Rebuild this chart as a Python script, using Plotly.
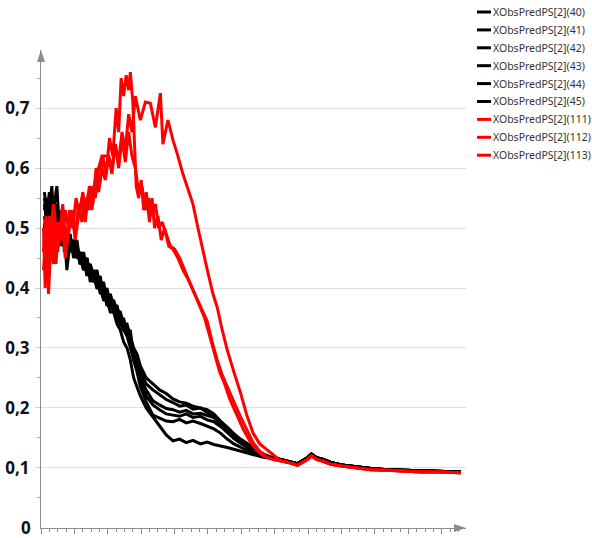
import plotly.graph_objects as go

# ---------------- data ----------------
black_names = ["XObsPredPS[2](40)", "XObsPredPS[2](41)", "XObsPredPS[2](42)",
               "XObsPredPS[2](43)", "XObsPredPS[2](44)", "XObsPredPS[2](45)"]
red_names = ["XObsPredPS[2](111)", "XObsPredPS[2](112)", "XObsPredPS[2](113)"]

black_x_early = [0.4, 0.7, 1.0, 1.3, 1.6, 1.9, 2.2, 2.5, 2.8, 3.1, 3.5, 3.9, 4.3, 4.7, 5.1,
                 5.5, 5.9, 6.3, 6.7, 7.1, 7.5, 7.9, 8.3, 8.7, 9.1, 9.5, 9.9, 10.3, 10.7]
black_x_late = [11.1, 11.5, 11.9, 12.6, 13.4, 14.2, 15.0, 15.8, 16.6, 17.4, 18.2, 19.1,
                19.9, 20.7, 21.5, 22.3, 23.1, 23.9, 24.7, 25.5, 26.5, 27.5]
tail_x = [28.7, 29.9, 30.7, 31.3, 31.9, 32.4, 33.0, 33.8, 34.7, 36.0, 37.7, 39.5,
          41.5, 43.5, 45.5, 47.5, 49.0, 50.3]

black_y_early = [
    [0.53, 0.55, 0.51, 0.54, 0.50, 0.52, 0.49, 0.50, 0.47, 0.49, 0.46, 0.47, 0.45, 0.46, 0.43,
     0.44, 0.42, 0.42, 0.40, 0.40, 0.38, 0.38, 0.36, 0.36, 0.34, 0.33, 0.31, 0.30, 0.28],
    [0.55, 0.52, 0.56, 0.50, 0.54, 0.57, 0.50, 0.51, 0.49, 0.43, 0.48, 0.46, 0.46, 0.44, 0.45,
     0.43, 0.43, 0.41, 0.42, 0.39, 0.40, 0.37, 0.38, 0.36, 0.35, 0.34, 0.33, 0.32, 0.30],
    [0.50, 0.54, 0.49, 0.52, 0.48, 0.51, 0.52, 0.48, 0.50, 0.48, 0.47, 0.48, 0.45, 0.46, 0.44,
     0.45, 0.42, 0.43, 0.41, 0.41, 0.39, 0.39, 0.37, 0.37, 0.35, 0.35, 0.33, 0.33, 0.31],
    [0.56, 0.53, 0.50, 0.55, 0.51, 0.49, 0.53, 0.47, 0.49, 0.50, 0.46, 0.48, 0.47, 0.44, 0.46,
     0.43, 0.44, 0.42, 0.43, 0.40, 0.41, 0.38, 0.39, 0.37, 0.37, 0.35, 0.34, 0.33, 0.32],
    [0.52, 0.50, 0.55, 0.48, 0.52, 0.54, 0.47, 0.50, 0.48, 0.46, 0.49, 0.45, 0.47, 0.45, 0.43,
     0.45, 0.41, 0.43, 0.40, 0.42, 0.38, 0.40, 0.37, 0.38, 0.36, 0.36, 0.34, 0.34, 0.32],
    [0.54, 0.51, 0.53, 0.57, 0.49, 0.52, 0.48, 0.52, 0.46, 0.49, 0.47, 0.46, 0.48, 0.44, 0.45,
     0.42, 0.44, 0.41, 0.42, 0.40, 0.39, 0.39, 0.38, 0.36, 0.37, 0.34, 0.35, 0.32, 0.33],
]
black_y_late = [
    [0.25, 0.235, 0.22, 0.20, 0.185, 0.168, 0.155, 0.145, 0.148, 0.142, 0.146, 0.140,
     0.143, 0.139, 0.137, 0.134, 0.131, 0.128, 0.124, 0.121, 0.118, 0.116],
    [0.28, 0.26, 0.235, 0.21, 0.188, 0.183, 0.178, 0.177, 0.181, 0.175, 0.178, 0.174,
     0.170, 0.165, 0.158, 0.148, 0.140, 0.134, 0.129, 0.124, 0.120, 0.117],
    [0.29, 0.27, 0.25, 0.23, 0.212, 0.205, 0.199, 0.197, 0.193, 0.196, 0.190, 0.191,
     0.187, 0.184, 0.175, 0.163, 0.150, 0.142, 0.135, 0.128, 0.121, 0.117],
    [0.30, 0.29, 0.27, 0.25, 0.24, 0.23, 0.224, 0.215, 0.21, 0.208, 0.203, 0.200,
     0.197, 0.190, 0.178, 0.168, 0.157, 0.148, 0.141, 0.133, 0.124, 0.118],
    [0.29, 0.28, 0.26, 0.24, 0.23, 0.222, 0.214, 0.209, 0.203, 0.205, 0.198, 0.200,
     0.192, 0.185, 0.174, 0.164, 0.154, 0.146, 0.139, 0.131, 0.123, 0.118],
    [0.28, 0.265, 0.245, 0.22, 0.205, 0.197, 0.19, 0.188, 0.186, 0.19, 0.184, 0.186,
     0.180, 0.177, 0.169, 0.159, 0.149, 0.141, 0.134, 0.127, 0.121, 0.117],
]
black_tail_y = [0.114, 0.110, 0.107, 0.112, 0.117, 0.123, 0.117, 0.114, 0.109, 0.105, 0.102,
                0.099, 0.097, 0.096, 0.095, 0.094, 0.093, 0.093]

red_x = [
    [0.3, 0.5, 0.8, 1.0, 1.3, 1.6, 2.0, 2.3, 2.6, 3.0, 3.4, 3.8, 4.2, 4.6, 5.0, 5.4, 5.8, 6.2,
     6.6, 7.0, 7.4, 7.8, 8.2, 8.6, 9.0, 9.3, 9.6, 9.9, 10.2, 10.5, 10.7, 11.0, 11.2, 11.4,
     11.7, 12.0, 12.3, 12.6, 13.0, 13.3, 13.6, 14.0, 14.4, 14.8, 15.3, 15.8, 16.4, 17.0,
     17.6, 18.2, 18.8, 19.4, 19.9, 20.5, 21.1, 21.7, 22.3, 23.1, 23.9, 24.6, 25.4, 26.2,
     27.1, 27.9],
    [0.3, 0.6, 0.9, 1.2, 1.5, 1.8, 2.1, 2.5, 2.9, 3.3, 3.7, 4.1, 4.5, 4.9, 5.3, 5.7, 6.1, 6.5,
     6.9, 7.3, 7.7, 8.1, 8.5, 8.9, 9.3, 9.7, 10.1, 10.5, 10.9, 11.3, 11.9, 12.5, 13.1, 13.7,
     14.3, 14.6, 15.2, 15.8, 16.4, 17.0, 17.6, 18.2, 18.8, 19.4, 20.0, 20.6, 21.1, 21.7,
     22.3, 23.1, 23.9, 24.6, 25.4, 26.2, 27.1, 27.9],
    [0.3, 0.6, 0.9, 1.2, 1.5, 1.8, 2.1, 2.5, 2.9, 3.3, 3.7, 4.1, 4.5, 4.9, 5.3, 5.7, 6.1, 6.5,
     6.9, 7.3, 7.7, 8.1, 8.5, 8.9, 9.3, 9.7, 10.1, 10.5, 10.9, 11.3, 11.7, 12.1, 12.5, 12.9,
     13.3, 13.7, 14.1, 14.5, 15.0, 15.5, 16.0, 16.6, 17.2, 17.8, 18.4, 19.0, 19.6, 20.2,
     20.8, 21.4, 22.0, 22.6, 23.4, 24.2, 25.0, 25.8, 26.6, 27.4, 28.0],
]
red_y = [
    [0.50, 0.40, 0.47, 0.52, 0.45, 0.53, 0.46, 0.50, 0.54, 0.47, 0.53, 0.50, 0.55, 0.52, 0.56,
     0.53, 0.57, 0.54, 0.60, 0.57, 0.62, 0.59, 0.65, 0.62, 0.70, 0.66, 0.75, 0.72, 0.755,
     0.73, 0.76, 0.71, 0.64, 0.57, 0.55, 0.58, 0.53, 0.56, 0.51, 0.55, 0.50, 0.52, 0.48,
     0.50, 0.47, 0.465, 0.45, 0.43, 0.415, 0.397, 0.38, 0.36, 0.345, 0.31, 0.28, 0.255,
     0.235, 0.21, 0.185, 0.165, 0.142, 0.128, 0.118, 0.114],
    [0.46, 0.52, 0.43, 0.50, 0.54, 0.44, 0.51, 0.48, 0.53, 0.50, 0.52, 0.49, 0.54, 0.51, 0.55,
     0.53, 0.57, 0.55, 0.60, 0.62, 0.62, 0.62, 0.60, 0.64, 0.61, 0.66, 0.63, 0.69, 0.66,
     0.72, 0.68, 0.71, 0.708, 0.668, 0.725, 0.64, 0.68, 0.647, 0.62, 0.59, 0.565, 0.54,
     0.50, 0.46, 0.425, 0.39, 0.368, 0.33, 0.297, 0.26, 0.225, 0.19, 0.158, 0.14, 0.13,
     0.12],
    [0.43, 0.49, 0.39, 0.48, 0.44, 0.51, 0.47, 0.52, 0.45, 0.49, 0.53, 0.48, 0.52, 0.55, 0.51,
     0.56, 0.53, 0.58, 0.56, 0.60, 0.58, 0.62, 0.59, 0.64, 0.60, 0.65, 0.61, 0.66, 0.62,
     0.60, 0.56, 0.57, 0.53, 0.55, 0.52, 0.54, 0.50, 0.51, 0.49, 0.47, 0.465, 0.45, 0.43,
     0.41, 0.39, 0.37, 0.35, 0.32, 0.29, 0.26, 0.24, 0.215, 0.19, 0.165, 0.145, 0.13, 0.12,
     0.116, 0.113],
]
red_tail_y = [0.112, 0.108, 0.104, 0.109, 0.114, 0.120, 0.114, 0.111, 0.106, 0.103, 0.100,
              0.097, 0.096, 0.094, 0.093, 0.093, 0.092, 0.092]

y_tick_vals = [0, 0.1, 0.2, 0.3, 0.4, 0.5, 0.6, 0.7]
y_tick_text = ["0", "0,1", "0,2", "0,3", "0,4", "0,5", "0,6", "0,7"]

# ---------------- figure ----------------
W, H = 592, 538
L, R, T, B = 41, 126, 50, 10
X_MAX = 50.9
Y_MIN = -0.0003
Y_MAX = 0.797
GRAY = "#8c8c8c"

fig = go.Figure()

for i, name in enumerate(black_names):
    fig.add_trace(go.Scatter(
        x=black_x_early + black_x_late + tail_x,
        y=black_y_early[i] + black_y_late[i] + black_tail_y,
        mode="lines", name=name, line=dict(color="#000000", width=3),
        showlegend=False))

for i, name in enumerate(red_names):
    fig.add_trace(go.Scatter(
        x=red_x[i] + tail_x, y=red_y[i] + red_tail_y,
        mode="lines", name=name, line=dict(color="#ff0000", width=3),
        showlegend=False))

pw = W - L - R
ph = H - T - B

def px_to_paper_x(px):
    return (px - L) / pw

def py_to_paper_y(py):
    return (H - B - py) / ph

shapes = []
annotations = []
# axis arrows
shapes.append(dict(type="path", xref="paper", yref="paper",
                   path=f"M {-4/pw} {1-12/ph} L {4/pw} {1-12/ph} L 0 1 Z",
                   fillcolor=GRAY, line=dict(width=0)))
shapes.append(dict(type="path", xref="paper", yref="paper",
                   path=f"M {1-12/pw} {-4/ph} L {1-12/pw} {4/ph} L 1 0 Z",
                   fillcolor=GRAY, line=dict(width=0)))

# legend (drawn manually to match compact swatches)
legend_names = black_names + red_names
legend_colors = ["#000000"] * len(black_names) + ["#ff0000"] * len(red_names)
for i, (nm, col) in enumerate(zip(legend_names, legend_colors)):
    py = 12 + 17.9 * i
    shapes.append(dict(type="line", xref="paper", yref="paper",
                       x0=px_to_paper_x(477), x1=px_to_paper_x(491),
                       y0=py_to_paper_y(py), y1=py_to_paper_y(py),
                       line=dict(color=col, width=3)))
    annotations.append(dict(text=nm, xref="paper", yref="paper",
                            x=px_to_paper_x(491), y=py_to_paper_y(py),
                            xanchor="left", yanchor="middle", showarrow=False,
                            font=dict(family="Noto Sans", size=10.5, color="#333333")))

# "0" label at the origin (placed as annotation so it is never dropped at the range edge)
annotations.append(dict(text="<b>0</b>", xref="paper", yref="y", x=px_to_paper_x(33), y=0,
                        xanchor="right", yanchor="middle", showarrow=False,
                        font=dict(family="Open Sans", size=17, color="#111111")))

fig.update_layout(
    width=W, height=H,
    margin=dict(l=L, r=R, t=T, b=B, pad=0),
    paper_bgcolor="white", plot_bgcolor="white",
    separators=", ",
    shapes=shapes, annotations=annotations,
    showlegend=False,
    xaxis=dict(range=[0, X_MAX], showgrid=False, zeroline=False, automargin=False,
               showline=True, linecolor=GRAY, linewidth=1,
               showticklabels=False, ticks="outside", ticklen=5,
               tickcolor=GRAY, tick0=0, dtick=4,
               minor=dict(ticks="outside", ticklen=3, tickcolor=GRAY,
                          tick0=0, dtick=1, showgrid=False)),
    yaxis=dict(range=[Y_MIN, Y_MAX], showgrid=True, gridcolor="#dedede", gridwidth=1,
               zeroline=False, showline=True, linecolor=GRAY, linewidth=1,
               automargin=False,
               tickvals=y_tick_vals[1:], ticktext=y_tick_text[1:], ticks="outside",
               ticklen=5, tickcolor="#d0d0d0", ticklabelstandoff=2,
               tickfont=dict(family="Open Sans", size=17, color="#111111", weight="bold"),
               minor=dict(ticks="outside", ticklen=3, tickcolor="#b0b0b0",
                          tickvals=[0.05, 0.15, 0.25, 0.35, 0.45, 0.55, 0.65, 0.75],
                          showgrid=False)),
)

fig.write_html("out.html", config={"displayModeBar": False},
               post_script="document.body.style.margin='0';document.body.style.overflow='hidden';")
